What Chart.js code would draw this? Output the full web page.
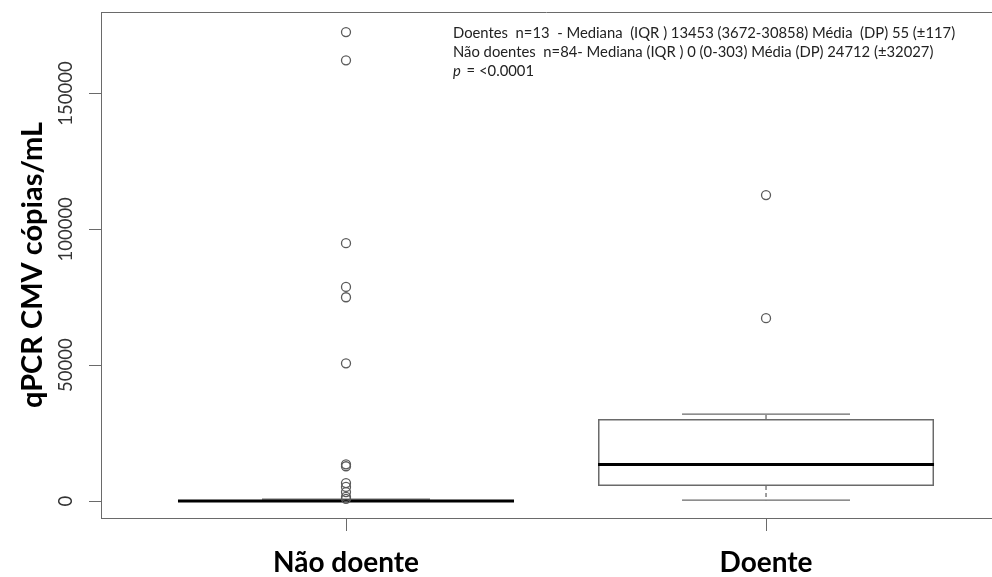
<!DOCTYPE html>
<html>
<head>
<meta charset="utf-8">
<script src="https://cdn.jsdelivr.net/npm/chart.js@4.4.1/dist/chart.umd.min.js"></script>
<style>
  body { margin: 0; background: #fff; }
</style>
</head>
<body>
<canvas id="cmv-chart" width="992" height="577"></canvas>
<script>
// groups on the x axis
const groupNames = ['Não doente', 'Doente'];
const groupPositions = [1, 2];

// box statistics
const boxQ1 = [0, 5500];
const boxMedian = [0, 13453];
const boxQ3 = [303, 30200];
const whiskerLow = [0, 300];
const whiskerHigh = [700, 32000];

// outliers
const outliersNaoDoente = [172600, 162200, 94900, 78800, 75000, 50700, 13500, 12800, 6600, 5200, 3300, 1500, 800];
const outliersDoente = [112600, 67300];

const yTickValues = [0, 50000, 100000, 150000];

const noteLines = [
    'Doentes  n=13  - Mediana  (IQR ) 13453 (3672-30858) Média  (DP) 55 (±117)',
    'Não doentes  n=84- Mediana (IQR ) 0 (0-303) Média (DP) 24712 (±32027)'
];
const pValueText = ' = <0.0001';

const axisColor = '#6a6a6a';

let outlierPoints = [];
outliersNaoDoente.forEach((v) => outlierPoints.push({ x: groupPositions[0], y: v }));
outliersDoente.forEach((v) => outlierPoints.push({ x: groupPositions[1], y: v }));

let boxBars = groupPositions.map((pos, i) => ({ x: pos, y: [boxQ1[i], boxQ3[i]] }));

const boxplotParts = {
    id: 'boxplotParts',
    afterDatasetDraw(chart, args) {
        if (args.index !== 1) return;
        const { ctx, scales: { x, y } } = chart;
        ctx.save();
        groupPositions.forEach((pos, i) => {
            const cx = x.getPixelForValue(pos);
            const capL = x.getPixelForValue(pos - 0.2);
            const capR = x.getPixelForValue(pos + 0.2);
            const boxL = x.getPixelForValue(pos - 0.4);
            const boxR = x.getPixelForValue(pos + 0.4);

            // dashed whiskers
            ctx.strokeStyle = axisColor;
            ctx.lineWidth = 1.3;
            ctx.setLineDash([4, 3]);
            ctx.beginPath();
            ctx.moveTo(cx, y.getPixelForValue(boxQ3[i]));
            ctx.lineTo(cx, y.getPixelForValue(whiskerHigh[i]));
            ctx.moveTo(cx, y.getPixelForValue(boxQ1[i]));
            ctx.lineTo(cx, y.getPixelForValue(whiskerLow[i]));
            ctx.stroke();

            // whisker caps
            ctx.setLineDash([]);
            ctx.beginPath();
            ctx.moveTo(capL, y.getPixelForValue(whiskerHigh[i]));
            ctx.lineTo(capR, y.getPixelForValue(whiskerHigh[i]));
            ctx.moveTo(capL, y.getPixelForValue(whiskerLow[i]));
            ctx.lineTo(capR, y.getPixelForValue(whiskerLow[i]));
            ctx.stroke();

            // median
            ctx.strokeStyle = '#000';
            ctx.lineWidth = 3;
            ctx.beginPath();
            ctx.moveTo(boxL, y.getPixelForValue(boxMedian[i]));
            ctx.lineTo(boxR, y.getPixelForValue(boxMedian[i]));
            ctx.stroke();
        });
        ctx.restore();
    },
    afterDraw(chart) {
        const { ctx, chartArea, scales: { y } } = chart;
        ctx.save();

        // top border of the plot box
        ctx.strokeStyle = axisColor;
        ctx.lineWidth = 1;
        ctx.beginPath();
        ctx.moveTo(chartArea.left, chartArea.top + 0.5);
        ctx.lineTo(chartArea.right, chartArea.top + 0.5);
        ctx.stroke();

        // rotated y tick labels like base R
        ctx.fillStyle = '#333';
        ctx.font = '18.5px Lato';
        ctx.textAlign = 'center';
        ctx.textBaseline = 'alphabetic';
        yTickValues.forEach((v) => {
            ctx.save();
            ctx.translate(chartArea.left - 29, y.getPixelForValue(v));
            ctx.rotate(-Math.PI / 2);
            ctx.fillText(String(v), 0, 0);
            ctx.restore();
        });

        // annotation text
        ctx.fillStyle = '#222';
        ctx.font = '14.8px Lato';
        ctx.textAlign = 'left';
        const noteX = 453;
        noteLines.forEach((line, i) => {
            ctx.fillText(line, noteX, chartArea.top + 26 + i * 19);
        });
        ctx.font = 'italic 14.8px Lato';
        ctx.fillText('p', noteX, chartArea.top + 26 + 2 * 19);
        const pw = ctx.measureText('p').width;
        ctx.font = '14.8px Lato';
        ctx.fillText(pValueText, noteX + pw + 2, chartArea.top + 26 + 2 * 19);
        ctx.restore();
    }
};

const ctx = document.getElementById('cmv-chart').getContext('2d');
const cmvChart = new Chart(ctx, {
    data: {
        datasets: [
            {
                type: 'scatter',
                data: outlierPoints,
                pointStyle: 'circle',
                pointRadius: 4.5,
                borderColor: '#5a5a5a',
                borderWidth: 1.3,
                backgroundColor: 'rgba(0,0,0,0)'
            },
            {
                type: 'bar',
                data: boxBars,
                backgroundColor: 'rgba(0,0,0,0)',
                borderColor: axisColor,
                borderWidth: 1.5,
                borderSkipped: false,
                categoryPercentage: 0.8,
                barPercentage: 1.0
            }
        ]
    },
    options: {
        responsive: false,
        animation: false,
        layout: { autoPadding: false, padding: { top: 12, left: 0, right: 0, bottom: 0 } },
        plugins: {
            legend: { display: false },
            tooltip: { enabled: false }
        },
        scales: {
            x: {
                type: 'linear',
                offset: false,
                min: 0.4167,
                max: 2.538,
                afterBuildTicks: (scale) => { scale.ticks = groupPositions.map((v) => ({ value: v })); },
                afterFit: (scale) => { scale.height = 59; },
                grid: { offset: false, drawOnChartArea: false, drawTicks: true, tickLength: 13, color: axisColor },
                border: { display: true, color: axisColor, width: 1 },
                ticks: {
                    padding: 15,
                    color: '#000',
                    font: { family: 'Lato', size: 28, weight: 'bold' },
                    callback: (value) => groupNames[groupPositions.indexOf(value)] || ''
                }
            },
            y: {
                type: 'linear',
                min: -6250,
                max: 180000,
                afterBuildTicks: (scale) => { scale.ticks = yTickValues.map((v) => ({ value: v })); },
                afterFit: (scale) => { scale.width = 101; },
                grid: { drawOnChartArea: false, drawTicks: true, tickLength: 12, color: axisColor },
                border: { display: true, color: axisColor, width: 1 },
                ticks: { display: false },
                title: {
                    display: true,
                    text: 'qPCR CMV cópias/mL',
                    color: '#000',
                    font: { family: 'Lato', size: 29, weight: 'bold' },
                    padding: { top: 15 }
                }
            }
        }
    },
    plugins: [boxplotParts]
});
</script>
</body>
</html>
